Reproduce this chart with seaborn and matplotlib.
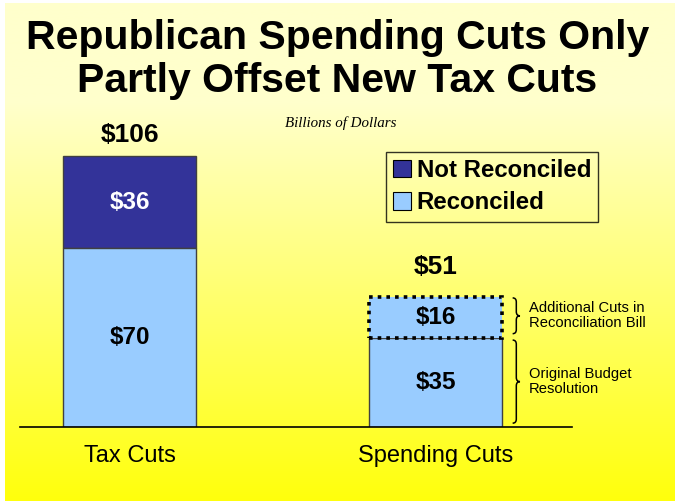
import numpy as np
import pandas as pd
import matplotlib
matplotlib.use("Agg")
import matplotlib.pyplot as plt
from matplotlib.path import Path
from matplotlib.patches import PathPatch, Patch
import seaborn as sns

# data, billions of dollars
categories = ["Tax Cuts", "Spending Cuts"]
reconciled = [70, 35]
upper = [36, 16]
totals = [a + b for a, b in zip(reconciled, upper)]
upper_kind = ["Not Reconciled", "Reconciled"]
brace_notes = ["Additional Cuts in\nReconciliation Bill", "Original Budget\nResolution"]

dark = "#333399"
light = "#99CCFF"

plt.rcParams["font.family"] = ["Liberation Sans", "DejaVu Sans"]

W, H = 675, 501
fig = plt.figure(figsize=(W / 100, H / 100), dpi=100, facecolor="white")

# yellow gradient background (small white strip left / top like the slide capture)
bg = fig.add_axes([5 / W, 0, 1 - 5 / W, 1 - 3 / H], zorder=-10)
yy = np.arange(H)
blue = np.clip(204 - np.clip(yy - 100, 0, None) * 0.48, 0, 255) / 255
grad = np.ones((H, 1, 3))
grad[:, 0, 2] = blue
bg.imshow(grad, aspect="auto", extent=[0, 1, 0, 1], origin="upper")
bg.axis("off")

# plot area: baseline at y=427px, from x=20 to 572px
ax = fig.add_axes([20 / W, (H - 427) / H, 552 / W, 317 / H])
ax.patch.set_alpha(0)

df = pd.DataFrame({"cat": categories, "total": totals, "low": reconciled,
                   "up": upper, "kind": upper_kind})

sns.barplot(data=df, x="cat", y="up", hue="kind",
            palette={"Not Reconciled": dark, "Reconciled": light},
            width=0.435, edgecolor="#404040", linewidth=1, legend=False, ax=ax)
sns.barplot(data=df, x="cat", y="low", color=light, width=0.435,
            edgecolor="#404040", linewidth=1, saturation=1, ax=ax)

top_bars = ax.patches[:2]
for p, base, kind in zip(top_bars, df["low"], df["kind"]):
    p.set_y(base)
    p.set_facecolor(dark if kind == "Not Reconciled" else light)
# spending cuts top piece: dotted outline
top_bars[1].set_edgecolor("black")
top_bars[1].set_linewidth(2.6)
top_bars[1].set_linestyle((0, (1, 1.4)))
top_bars[1].set_zorder(5)

ax.set_xlim(-0.358, 1.446)
ax.set_ylim(0, 124)
ax.set_xlabel("")
ax.set_ylabel("")
ax.set_yticks([])
ax.tick_params(axis="x", length=0, labelsize=17, pad=13)
for s in ["top", "right", "left"]:
    ax.spines[s].set_visible(False)
ax.spines["bottom"].set_linewidth(1.2)

# segment labels
for i in range(len(categories)):
    ax.text(i, reconciled[i] / 2, f"${reconciled[i]}", ha="center", va="center",
            fontsize=17.5, fontweight="bold", color="black", zorder=10)
    ax.text(i, reconciled[i] + upper[i] / 2, f"${upper[i]}", ha="center", va="center",
            fontsize=17.5, fontweight="bold", zorder=10,
            color="white" if upper_kind[i] == "Not Reconciled" else "black")
total_pad = [21, 30]
for i in range(len(categories)):
    ax.annotate(f"${totals[i]}", (i, totals[i]), xytext=(0, total_pad[i] * 0.72),
                textcoords="offset points", ha="center", va="center",
                fontsize=19, fontweight="bold")


def brace(ax, x, y0, y1, w, d):
    ym = (y0 + y1) / 2
    xm = x + w / 2
    verts = [(x, y1), (xm, y1), (xm, y1 - d),
             (xm, ym + d), (xm, ym), (x + w, ym),
             (xm, ym), (xm, ym - d),
             (xm, y0 + d), (xm, y0), (x, y0)]
    codes = [Path.MOVETO, Path.CURVE3, Path.CURVE3,
             Path.LINETO, Path.CURVE3, Path.CURVE3,
             Path.CURVE3, Path.CURVE3,
             Path.LINETO, Path.CURVE3, Path.CURVE3]
    ax.add_patch(PathPatch(Path(verts, codes), fill=False, lw=1.1,
                           edgecolor="black", clip_on=False))


bx = 1.252
spans = [(reconciled[1] + 1.5, totals[1] - 0.5), (1.5, reconciled[1] - 1.0)]
for (y0, y1), note in zip(spans, brace_notes):
    brace(ax, bx, y0, y1, 0.024, 1.6)
    ax.text(1.306, (y0 + y1) / 2, note, ha="left", va="center",
            fontsize=10.6, linespacing=1.1)

# legend
handles = [Patch(facecolor=dark, edgecolor="black", lw=0.8),
           Patch(facecolor=light, edgecolor="black", lw=0.8)]
leg = fig.legend(handles, ["Not Reconciled", "Reconciled"], loc="upper left",
                 bbox_to_anchor=(386 / W, 1 - 152 / H), frameon=True,
                 fancybox=False, prop={"size": 17.3, "weight": "bold"},
                 handlelength=0.72, handleheight=0.72, handletextpad=0.25,
                 borderpad=0.3, labelspacing=0.38, borderaxespad=0)
leg.get_frame().set_edgecolor("black")
leg.get_frame().set_facecolor("none")
leg.get_frame().set_linewidth(1)

# titles
fig.text(0.5, 1 - 38 / H, "Republican Spending Cuts Only", ha="center", va="center",
         fontsize=29.5, fontweight="bold")
fig.text(0.5, 1 - 81 / H, "Partly Offset New Tax Cuts", ha="center", va="center",
         fontsize=29.5, fontweight="bold")
fig.text(341 / W, 1 - 123 / H, "Billions of Dollars", ha="center", va="center",
         fontsize=10.8, style="italic", family=["Liberation Serif", "DejaVu Serif"])

fig.savefig("out.png", dpi=100, facecolor=fig.get_facecolor())
